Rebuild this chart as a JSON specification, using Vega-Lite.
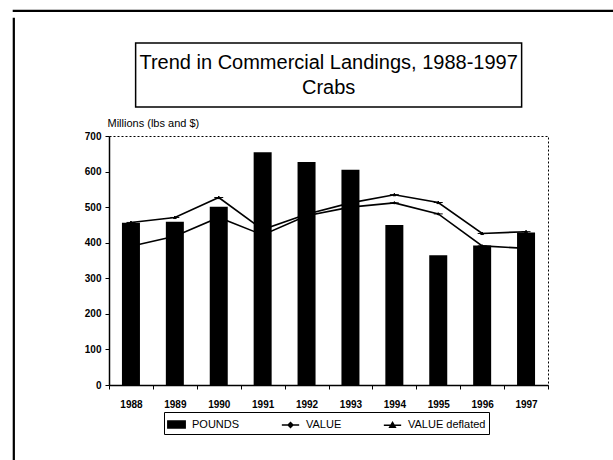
{
  "$schema": "https://vega.github.io/schema/vega-lite/v6.json",
  "background": "white",
  "padding": {"left": 12, "top": 3, "right": 0, "bottom": 0},
  "config": {
    "font": "Liberation Sans",
    "view": {"stroke": null},
    "axis": {"grid": false, "domainColor": "black", "tickColor": "black", "labelColor": "black", "titleColor": "black", "labelFont": "Liberation Sans", "titleFont": "Liberation Sans"},
    "legend": {"labelFont": "Liberation Sans"}
  },
  "datasets": {
    "blank": [{"t": ""}],
    "landings": [
      {"year": "1988", "series": "POUNDS", "value": 456},
      {"year": "1989", "series": "POUNDS", "value": 459},
      {"year": "1990", "series": "POUNDS", "value": 501},
      {"year": "1991", "series": "POUNDS", "value": 654},
      {"year": "1992", "series": "POUNDS", "value": 627},
      {"year": "1993", "series": "POUNDS", "value": 605},
      {"year": "1994", "series": "POUNDS", "value": 450},
      {"year": "1995", "series": "POUNDS", "value": 365},
      {"year": "1996", "series": "POUNDS", "value": 392},
      {"year": "1997", "series": "POUNDS", "value": 429},
      {"year": "1988", "series": "VALUE", "value": 390},
      {"year": "1989", "series": "VALUE", "value": 418},
      {"year": "1990", "series": "VALUE", "value": 471},
      {"year": "1991", "series": "VALUE", "value": 422},
      {"year": "1992", "series": "VALUE", "value": 476},
      {"year": "1993", "series": "VALUE", "value": 500},
      {"year": "1994", "series": "VALUE", "value": 512},
      {"year": "1995", "series": "VALUE", "value": 481},
      {"year": "1996", "series": "VALUE", "value": 391},
      {"year": "1997", "series": "VALUE", "value": 384},
      {"year": "1988", "series": "VALUE deflated", "value": 457},
      {"year": "1989", "series": "VALUE deflated", "value": 471},
      {"year": "1990", "series": "VALUE deflated", "value": 527},
      {"year": "1991", "series": "VALUE deflated", "value": 437},
      {"year": "1992", "series": "VALUE deflated", "value": 480},
      {"year": "1993", "series": "VALUE deflated", "value": 512},
      {"year": "1994", "series": "VALUE deflated", "value": 535},
      {"year": "1995", "series": "VALUE deflated", "value": 513},
      {"year": "1996", "series": "VALUE deflated", "value": 426},
      {"year": "1997", "series": "VALUE deflated", "value": 431}
    ]
  },
  "spacing": 0,
  "vconcat": [
    {
      "width": 600,
      "height": 1,
      "view": {"stroke": "black", "strokeWidth": 1.2, "fill": "black"},
      "data": {"name": "blank"},
      "mark": {"type": "text"},
      "encoding": {"text": {"field": "t", "type": "nominal"}}
    },
    {
      "spacing": 68,
      "hconcat": [
        {
          "width": 1,
          "height": 460,
          "view": {"stroke": "black", "strokeWidth": 1.2, "fill": "black"},
          "data": {"name": "blank"},
          "mark": {"type": "text"},
          "encoding": {"text": {"field": "t", "type": "nominal"}}
        },
        {
          "center": true,
          "spacing": 8,
          "vconcat": [
            {
              "width": 1,
              "height": 16,
              "data": {"name": "blank"},
              "mark": {"type": "text"},
              "encoding": {"text": {"field": "t", "type": "nominal"}}
            },
            {
              "width": 386,
              "height": 64,
              "view": {"stroke": "black", "strokeWidth": 1.5},
              "data": {"values": [{"heading": "Trend in Commercial Landings, 1988-1997\nCrabs"}]},
              "mark": {"type": "text", "lineBreak": "\n", "fontSize": 20, "lineHeight": 25, "font": "Liberation Sans", "color": "black", "align": "center", "baseline": "middle", "dy": -12},
              "encoding": {"text": {"field": "heading", "type": "nominal"}}
            },
            {
              "width": 439,
              "height": 249,
              "view": {"stroke": "black", "strokeDash": [2, 2], "strokeWidth": 1},
              "data": {"name": "landings"},
              "encoding": {
                "x": {
                  "field": "year", "type": "ordinal",
                  "scale": {"paddingInner": 0, "paddingOuter": 0},
                  "axis": {"title": null, "labelAngle": 0, "tickBand": "extent", "tickSize": 4, "labelPadding": 10, "labelFontSize": 10, "labelFontWeight": "bold", "domainWidth": 1.5}
                },
                "y": {
                  "field": "value", "type": "quantitative",
                  "scale": {"domain": [0, 700], "nice": false},
                  "axis": {"values": [0, 100, 200, 300, 400, 500, 600, 700], "title": "Millions (lbs and $)", "titleAngle": 0, "titleAlign": "left", "titleBaseline": "middle", "titleX": -2, "titleY": -13, "titleFontSize": 11, "titleFontWeight": "normal", "tickSize": 4, "labelPadding": 4, "labelFontSize": 10, "labelFontWeight": "bold", "domainWidth": 1.5}
                }
              },
              "layer": [
                {
                  "transform": [{"filter": "datum.series === 'POUNDS'"}],
                  "mark": {"type": "bar", "width": {"band": 0.41}, "color": "black"}
                },
                {
                  "transform": [{"filter": "datum.series !== 'POUNDS'"}],
                  "mark": {"type": "line", "color": "black", "strokeWidth": 1.6},
                  "encoding": {"detail": {"field": "series", "type": "nominal"}}
                },
                {
                  "transform": [{"filter": "datum.series !== 'POUNDS'"}],
                  "mark": {"type": "point", "filled": true, "size": 80, "opacity": 1, "stroke": "black", "strokeWidth": 1},
                  "encoding": {
                    "color": {
                      "field": "series", "type": "nominal",
                      "scale": {"domain": ["POUNDS", "VALUE", "VALUE deflated"], "range": ["black", "black", "black"]},
                      "legend": {"title": null, "orient": "none", "legendX": 151, "legendY": 402, "direction": "horizontal", "strokeColor": "black", "padding": 3, "columnPadding": 38, "labelFontSize": 11, "labelColor": "black", "labelOffset": 6, "symbolSize": 300}
                    },
                    "shape": {
                      "field": "series", "type": "nominal",
                      "scale": {"domain": ["POUNDS", "VALUE", "VALUE deflated"], "range": ["M-1,-0.4H1V0.4H-1Z", "M-1,0H1M0,-0.28L0.28,0L0,0.28L-0.28,0Z", "M-1,0H1M0,-0.32L0.32,0.24L-0.32,0.24Z"]},
                      "legend": {"title": null, "orient": "none", "legendX": 151, "legendY": 402, "direction": "horizontal", "strokeColor": "black", "padding": 3, "columnPadding": 38, "labelFontSize": 11, "labelColor": "black", "labelOffset": 6, "symbolSize": 300}
                    }
                  }
                }
              ]
            }
          ]
        }
      ]
    }
  ]
}
